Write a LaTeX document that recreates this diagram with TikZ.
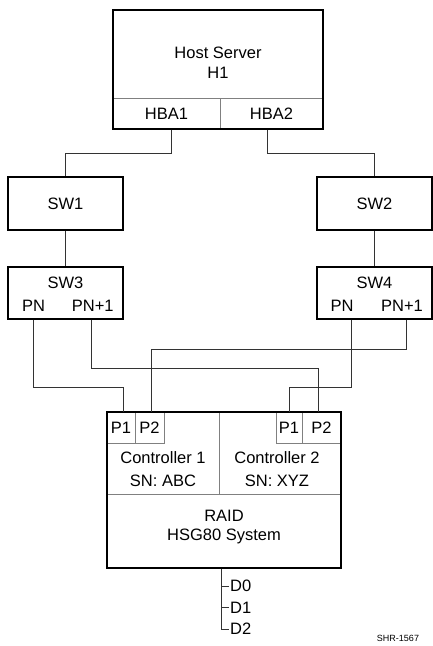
\documentclass[tikz,border=0pt]{standalone}
\usepackage{fontspec}
\setmainfont{Liberation Sans}
\usetikzlibrary{positioning,calc}

\begin{document}
\begin{tikzpicture}[x=1pt,y=-1pt,
    every node/.style={font=\fontsize{16.5}{20}\selectfont,inner sep=0pt},
    box/.style={draw=black,line width=1.4pt},
    cell/.style={draw=black!50,line width=1pt},
    wire/.style={draw=black!80,line width=0.8pt}]
  \useasboundingbox (0,0) rectangle (433,646);
  % host server
  \node[cell,minimum width=107,minimum height=31] (hba1) at (166.5,113.5) {HBA1};
  \node[cell,minimum width=103,minimum height=31] (hba2) at (271.5,113.5) {HBA2};
  \node[box,minimum width=210,minimum height=119] (host) at (218,69.5) {};
  \node[align=center] (hostname) at (218,63) {Host Server\\H1};
  % switches
  \node[box,minimum width=115,minimum height=53] (sw1) at (65.5,203.5) {SW1};
  \node[box,minimum width=115,minimum height=53] (sw2) at (374.5,203.5) {SW2};
  \node[box,minimum width=115,minimum height=52] (sw3) at (65.5,293) {};
  \node[box,minimum width=115,minimum height=52] (sw4) at (374.5,293) {};
  \node (sw3name) at (65.5,283) {SW3};
  \node (sw4name) at (374.5,283) {SW4};
  \node (sw3pn) at (33.5,306) {PN};
  \node (sw3pn1) at (92.7,306) {PN+1};
  \node (sw4pn) at (342,306) {PN};
  \node (sw4pn1) at (402,306) {PN+1};
  % controllers
  \node[cell,minimum width=112,minimum height=82] (ctl1) at (163,453) {};
  \node[cell,minimum width=122,minimum height=82] (ctl2) at (280,453) {};
  \node[cell,minimum width=28,minimum height=31] (c1p1) at (121,427.5) {P1};
  \node[cell,minimum width=29,minimum height=31] (c1p2) at (149.5,427.5) {P2};
  \node[cell,minimum width=26,minimum height=31] (c2p1) at (289,427.5) {P1};
  \node[cell,minimum width=39,minimum height=31] (c2p2) at (321.5,427.5) {P2};
  \node[box,minimum width=234,minimum height=156] (raid) at (224,490) {};
  \node[align=center,font=\fontsize{16.5}{23}\selectfont] (ctl1name) at (163,469.5) {Controller 1\\SN: ABC};
  \node[align=center,font=\fontsize{16.5}{23}\selectfont] (ctl2name) at (277,469.5) {Controller 2\\SN: XYZ};
  \node[align=center,font=\fontsize{16.5}{19}\selectfont] (raidname) at (224,527.5) {RAID\\HSG80 System};
  % disks
  \node[anchor=west] (d0) at (230,586) {D0};
  \node[anchor=west] (d1) at (230,607.5) {D1};
  \node[anchor=west] (d2) at (230,629) {D2};
  \node[font=\fontsize{9}{11}\selectfont] (fig) at (398,638) {SHR-1567};
  % wiring
  \draw[wire] ([xshift=4.5pt]hba1.south) -- ++(0,24) -| (sw1.north);
  \draw[wire] ([xshift=-4.5pt]hba2.south) -- ++(0,24) -| (sw2.north);
  \draw[wire] (sw1) -- (sw3);
  \draw[wire] (sw2) -- (sw4);
  \draw[wire] ($(sw3pn |- sw3.south)+(-0.5,0)$) -- ++(0,68) -| ([xshift=2pt]c1p1.north);
  \draw[wire] ($(sw3pn1 |- sw3.south)+(-1.7,0)$) -- ++(0,49) -| ([xshift=-3.5pt]c2p2.north);
  \draw[wire] ($(sw4pn |- sw4.south)+(9,0)$) -- ++(0,68) -| (c2p1.north);
  \draw[wire] ($(sw4pn1 |- sw4.south)+(4,0)$) -- ++(0,30) -| ([xshift=1.5pt]c1p2.north);
  \draw[wire] ($(raid.south)+(-3,0)$) |- ([xshift=-1pt]d2.west);
  \foreach \d in {d0,d1}
    \draw[wire] ([xshift=-1pt]\d.west) -- ++(-8,0);
\end{tikzpicture}
\end{document}
